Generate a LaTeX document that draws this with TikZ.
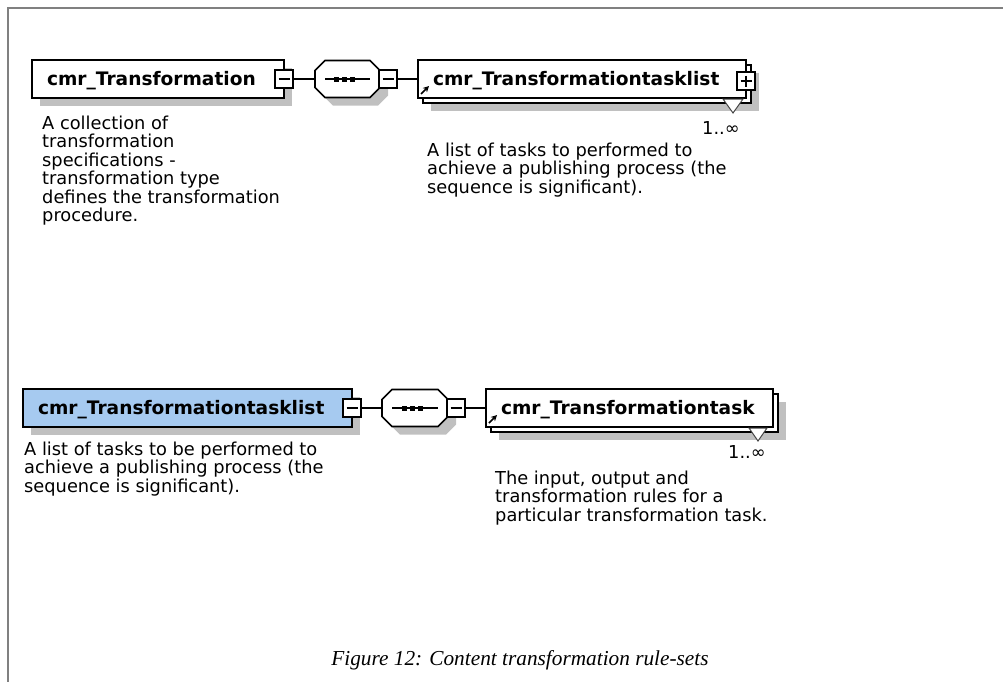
\documentclass[tikz,border=0pt]{standalone}
\usepackage{fontspec}
\setmainfont{DejaVu Sans}
\newfontfamily\capfont{Liberation Serif}
\usetikzlibrary{calc,arrows.meta}
\pgfdeclarelayer{shade}
\pgfsetlayers{shade,main}
\definecolor{framegray}{RGB}{128,128,128}
\definecolor{shadegray}{RGB}{192,192,192}
\definecolor{selblue}{RGB}{166,202,240}
\definecolor{tipgray}{RGB}{70,70,70}
\newcommand{\titlefont}{\fontsize{18.6}{20}\selectfont\bfseries}
\newcommand{\descfont}{\fontsize{17.8}{18.5}\selectfont}
% octagonal outline of a compositor, #1 = node, #2 = offset
\newcommand{\seqoutline}[2]{($(#1.north west)+(10+#2,#2)$) -- ($(#1.north east)+(-10+#2,#2)$) -- ($(#1.north east)+(#2,10+#2)$) -- ($(#1.south east)+(#2,-10+#2)$) -- ($(#1.south east)+(-10+#2,#2)$) -- ($(#1.south west)+(10+#2,#2)$) -- ($(#1.south west)+(#2,-10+#2)$) -- ($(#1.north west)+(#2,10+#2)$) -- cycle}
\tikzset{
  elembox/.style={draw=black, line width=1.6pt, fill=white, rectangle, anchor=west,
    minimum height=38pt, inner xsep=15pt, inner ysep=0pt, outer sep=0pt,
    text width=#1, align=left, text height=13.6pt, text depth=0pt, font=\titlefont},
  seqframe/.style={rectangle, minimum height=37pt, inner sep=0pt, outer sep=0pt},
  seqline/.style={draw=black, line width=1.6pt, fill=white},
  pmbox/.style={draw=black, line width=1.3pt, fill=white, minimum size=18pt, inner sep=0pt, outer sep=0pt},
  pmminus/.style={path picture={\draw[line width=1.3pt] ($(path picture bounding box.west)+(3.5pt,0pt)$) -- ($(path picture bounding box.east)+(-3.5pt,0pt)$);}},
  pmplus/.style={path picture={\draw[line width=1.3pt] ($(path picture bounding box.west)+(3.5pt,0pt)$) -- ($(path picture bounding box.east)+(-3.5pt,0pt)$) ($(path picture bounding box.north)+(0pt,-3.5pt)$) -- ($(path picture bounding box.south)+(0pt,3.5pt)$);}},
  conn/.style={draw=black, line width=1.4pt},
  desc/.style={anchor=north west, inner sep=0pt, align=left, font=\descfont},
  mult/.style={anchor=base west, inner sep=0pt, font=\descfont},
  refarrow/.style={-{Stealth[length=6pt,width=6pt]}, line width=1.6pt},
  multtip/.style={fill=white, draw=tipgray, line width=1pt},
  seqdot/.style={fill=black}
}
\begin{document}
\begin{tikzpicture}[x=1pt,y=-1pt]
\useasboundingbox (0,0) rectangle (1003,681);
% page frame
\draw[framegray, line width=2pt] (1004,7.5) -- (8,7.5) -- (8,682);

% ---------- upper schema: cmr_Transformation ----------
\node[elembox=222pt] (xf) at (32,79) {cmr\_Transformation};
\node[pmbox, pmminus] (xfm) at (xf.east) {};
\node[seqframe, minimum width=65pt] (sq1) at (347.5,79) {};
\draw[seqline] \seqoutline{sq1}{0};
\draw[line width=1.4pt] ($(sq1.west)+(10,0)$) -- ($(sq1.east)+(-10,0)$);
\foreach \dx in {-11,-3,5} \fill[seqdot] ($(sq1.center)+(\dx-2.5,-2.5)$) rectangle +(5,5);
\node[pmbox, pmminus] (sq1m) at (388,79) {};
\node[elembox=298pt] (tl1b) at (423,84) {};
\node[elembox=298pt] (tl1) at (418,79) {cmr\_Transformationtasklist};
\node[pmbox, pmplus] (tl1p) at (746,81) {};
\draw[refarrow] ($(tl1.south west)+(3,-4)$) -- ($(tl1.south west)+(11,-12)$);
\draw[multtip] ($(tl1.south east)+(-23,1)$) -- ($(tl1.south east)+(-3,1)$) -- ($(tl1.south east)+(-13,15)$) -- cycle;
\node[mult] (tl1n) at (702,134) {1..∞};
\draw[conn] (xfm.east) -- (sq1.west);
\draw[conn] (sq1m.east) -- (tl1.west);

\node[desc] (xfd) at (42,115.5) {A collection of\\transformation\\specifications -\\transformation type\\defines the transformation\\procedure.};
\node[desc] (tl1d) at (427,142.5) {A list of tasks to performed to\\achieve a publishing process (the\\sequence is significant).};

% ---------- lower schema: cmr_Transformationtasklist ----------
\node[elembox=299pt, fill=selblue] (tl) at (23,408) {cmr\_Transformationtasklist};
\node[pmbox, pmminus] (tlm) at (tl.east) {};
\node[seqframe, minimum width=66pt] (sq2) at (415,408) {};
\draw[seqline] \seqoutline{sq2}{0};
\draw[line width=1.4pt] ($(sq2.west)+(10,0)$) -- ($(sq2.east)+(-10,0)$);
\foreach \dx in {-11,-3,5} \fill[seqdot] ($(sq2.center)+(\dx-2.5,-2.5)$) rectangle +(5,5);
\node[pmbox, pmminus] (sq2m) at (456,408) {};
\node[elembox=257pt] (tkb) at (491,413) {};
\node[elembox=257pt] (tk) at (486,408) {cmr\_Transformationtask};
\draw[refarrow] ($(tk.south west)+(3,-4)$) -- ($(tk.south west)+(11,-12)$);
\draw[multtip] ($(tk.south east)+(-24,1)$) -- ($(tk.south east)+(-6,1)$) -- ($(tk.south east)+(-15,14)$) -- cycle;
\node[mult] (tkn) at (728,458) {1..∞};
\draw[conn] (tlm.east) -- (sq2.west);
\draw[conn] (sq2m.east) -- (tk.west);

\node[desc] (tld) at (24,441.5) {A list of tasks to be performed to\\achieve a publishing process (the\\sequence is significant).};
\node[desc] (tkd) at (495,470.5) {The input, output and\\transformation rules for a\\particular transformation task.};

% caption
\node[anchor=base, inner sep=0pt, font=\capfont\itshape\fontsize{21.3}{25}\selectfont] (cap) at (520,665) {Figure 12: Content transformation rule-sets};

% drop shadows
\begin{pgfonlayer}{shade}
\fill[shadegray] ([shift={(8,8)}]xf.north west) rectangle ([shift={(8,8)}]xf.south east);
\fill[shadegray] \seqoutline{sq1}{8};
\fill[shadegray] ([shift={(8,8)}]tl1b.north west) rectangle ([shift={(8,8)}]tl1b.south east);
\fill[shadegray] ([shift={(8,8)}]tl.north west) rectangle ([shift={(8,8)}]tl.south east);
\fill[shadegray] \seqoutline{sq2}{8};
\fill[shadegray] ([shift={(8,8)}]tkb.north west) rectangle ([shift={(8,8)}]tkb.south east);
\end{pgfonlayer}
\end{tikzpicture}
\end{document}
